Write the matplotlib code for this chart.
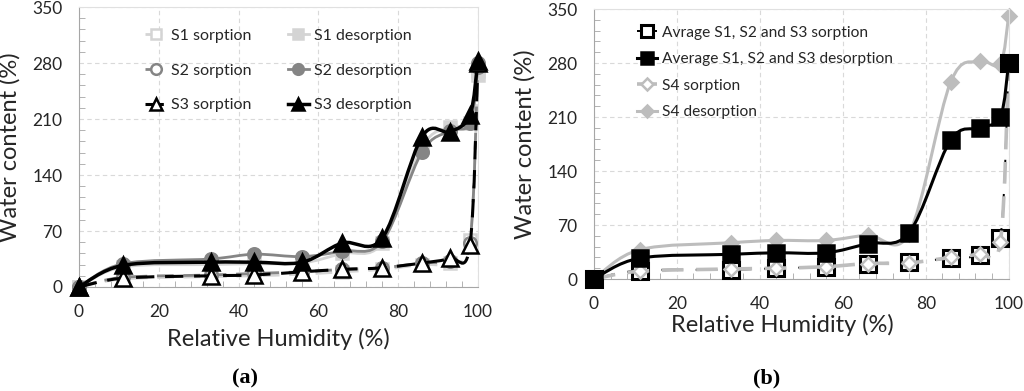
#
# sorption / desorption isotherms, two panels
#

import numpy as np
import matplotlib
matplotlib.use("Agg")
import matplotlib.pyplot as plt
from matplotlib.path import Path
from matplotlib.patches import PathPatch
from matplotlib.lines import Line2D
from matplotlib.ticker import MultipleLocator

plt.rcParams['font.family'] = ['Lato', 'DejaVu Sans']

# relative humidity (%)
rh = [0, 11, 33, 44, 56, 66, 76, 86, 93, 98, 100]

# panel (a) - water content (%)
s1_sorp = [0, 10, 13, 14, 16, 19, 22, 28, 30, 59, 270]
s1_desorp = [0, 25, 28, 29, 30, 42, 55, 175, 200, 205, 265]
s2_sorp = [0, 12, 15, 17, 19, 22, 24, 30, 33, 55, 280]
s2_desorp = [0, 29, 35, 41, 38, 45, 57, 169, 195, 205, 275]
s3_sorp = [0, 11, 14, 15, 19, 22, 24, 30, 36, 52, 280]
s3_desorp = [0, 27, 31, 31, 31, 55, 61, 188, 194, 215, 283]

# panel (b)
avg_sorp = [0, 11, 12, 14, 16, 20, 22, 27, 31, 53, 280]
avg_desorp = [0, 27, 32, 34, 34, 46, 60, 180, 196, 210, 280]
s4_sorp = [0, 10, 13, 14, 16, 20, 21, 28, 33, 48, 280]
s4_desorp = [0, 38, 47, 50, 50, 57, 59, 255, 282, 279, 341]

LIGHT = '#d4d4d4'
MID = '#858585'
S4C = '#bdbdbd'


def smooth_path(x, y):
    # bezier curve through the points, like excel "smoothed line"
    pts = np.column_stack([x, y]).astype(float)
    n = len(pts)
    verts = [pts[0]]
    codes = [Path.MOVETO]
    for i in range(n - 1):
        p0 = pts[i - 1] if i > 0 else pts[i]
        p1 = pts[i]
        p2 = pts[i + 1]
        p3 = pts[i + 2] if i + 2 < n else p2
        verts += [p1 + (p2 - p0) / 6, p2 - (p3 - p1) / 6, p2]
        codes += [Path.CURVE4] * 3
    return Path(verts, codes)


def series(ax, y, color, ls, marker, mfc, ms, lw, mew=1.8, z=3, dash=(6, 3.5)):
    patch = PathPatch(smooth_path(rh, y), fill=False, edgecolor=color, lw=lw,
                      zorder=z, clip_on=False)
    if ls == '--':
        patch.set_linestyle((0, dash))
    ax.add_patch(patch)
    ax.plot(rh, y, ls='none', marker=marker, ms=ms, mfc=mfc, mec=color,
            mew=mew, zorder=z + 0.5, clip_on=False)
    return Line2D([], [], color=color, lw=lw, ls=(0, dash) if ls == '--' else '-',
                  marker=marker, ms=ms * 0.85, mfc=mfc, mec=color, mew=mew)


def style(ax):
    ax.set_xlim(0, 100)
    ax.set_ylim(0, 350)
    ax.xaxis.set_major_locator(MultipleLocator(20))
    ax.xaxis.set_minor_locator(MultipleLocator(4))
    ax.yaxis.set_major_locator(MultipleLocator(70))
    ax.yaxis.set_minor_locator(MultipleLocator(14))
    ax.grid(True, which='major', color='#d9d9d9', ls=(0, (4, 3)), lw=0.8)
    ax.set_axisbelow(True)
    for s in ['top', 'right']:
        ax.spines[s].set_color('#e0e0e0')
    for s in ['left', 'bottom']:
        ax.spines[s].set_color('#a6a6a6')
    ax.tick_params(which='both', direction='in', colors='#a6a6a6',
                   labelcolor='#262626', labelsize=12.5)
    ax.tick_params(which='major', length=0, pad=12)
    ax.tick_params(which='minor', length=4)
    ax.set_xlabel('Relative Humidity (%)', fontsize=17, color='#262626',
                  labelpad=6)
    ax.set_ylabel('Water content (%)', fontsize=17, color='#262626',
                  labelpad=8)


fig = plt.figure(figsize=(10.24, 3.91), dpi=100)

# ---- panel (a)
ax1 = fig.add_axes([0.0771, 0.266, 0.3896, 0.716])
style(ax1)
h = {}
h['S1 sorption'] = series(ax1, s1_sorp, LIGHT, '--', 's', 'white', 9, 2.0)
h['S1 desorption'] = series(ax1, s1_desorp, LIGHT, '-', 's', LIGHT, 9, 2.0)
h['S2 sorption'] = series(ax1, s2_sorp, MID, '--', 'o', 'white', 9, 2.0, z=4)
h['S2 desorption'] = series(ax1, s2_desorp, MID, '-', 'o', MID, 9, 2.0, z=4)
h['S3 sorption'] = series(ax1, s3_sorp, 'black', '--', '^', 'white', 11, 2.2, z=5)
h['S3 desorption'] = series(ax1, s3_desorp, 'black', '-', '^', 'black', 11, 2.5, z=5)
order = ['S1 sorption', 'S2 sorption', 'S3 sorption',
         'S1 desorption', 'S2 desorption', 'S3 desorption']
ax1.legend([h[k] for k in order], order, ncol=2, loc='upper left',
           bbox_to_anchor=(0.13, 0.975), frameon=False, fontsize=11.5,
           handlelength=1.3, handletextpad=0.3, labelspacing=1.3,
           columnspacing=2.3, labelcolor='#262626')

# ---- panel (b)
ax2 = fig.add_axes([0.580, 0.2864, 0.405, 0.6905])
style(ax2)
ax2.xaxis.set_label_coords(0.455, -0.13)
hb = []
# same dash length on screen as the S4 sorption line lying over it
hb.append(series(ax2, avg_sorp, 'black', '--', 's', 'white', 11, 1.4, mew=2.2,
                 z=3, dash=(11.1, 6.5)))
hb.append(series(ax2, avg_desorp, 'black', '-', 's', 'black', 11, 2.2, z=6))
hb.append(series(ax2, s4_sorp, S4C, '--', 'D', 'white', 7, 2.6, z=5))
hb.append(series(ax2, s4_desorp, S4C, '-', 'D', S4C, 7, 2.2, z=2))
labels_b = ['Avrage S1, S2 and S3 sorption', 'Average S1, S2 and S3 desorption',
            'S4 sorption', 'S4 desorption']
ax2.legend(hb, labels_b, loc='upper left', bbox_to_anchor=(0.07, 0.99),
           frameon=False, fontsize=11.2, handlelength=1.3, handletextpad=0.3,
           labelspacing=0.8, labelcolor='#262626')

fig.text(0.2393, 0.033, '(a)', family='Liberation Serif', weight='bold',
         fontsize=16, ha='center', va='center')
fig.text(0.749, 0.033, '(b)', family='Liberation Serif', weight='bold',
         fontsize=16, ha='center', va='center')

fig.savefig('out.png', dpi=100)
